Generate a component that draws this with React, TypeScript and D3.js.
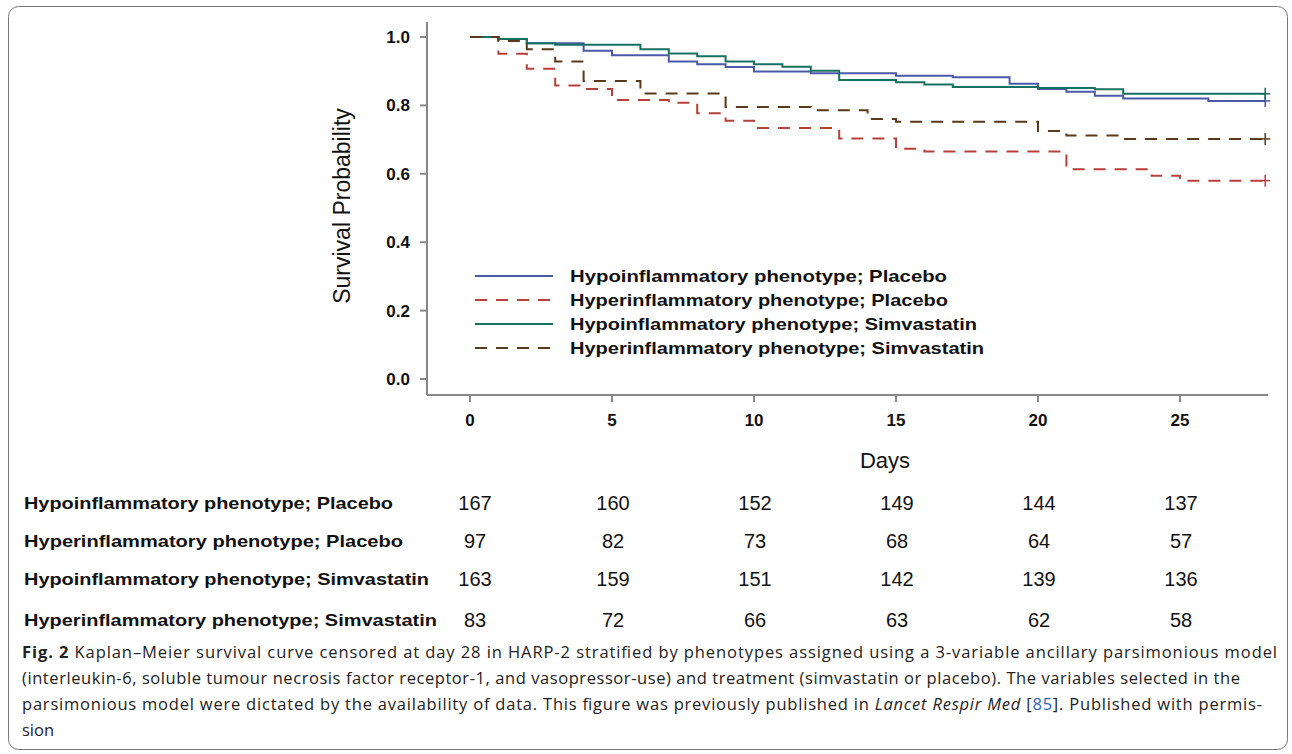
import React from "react";
import * as d3 from "d3";

const seriesNames = [
  "Hypoinflammatory phenotype; Placebo",
  "Hyperinflammatory phenotype; Placebo",
  "Hypoinflammatory phenotype; Simvastatin",
  "Hyperinflammatory phenotype; Simvastatin",
];
const colors = ["#4a5aa8", "#b8403a", "#16705f", "#5a3a1a"];
const dashed = [false, true, false, true];

const hypoPlaceboDays = [0, 1, 2, 4, 5, 7, 8, 9, 10, 12, 15, 17, 19, 20, 21, 22, 23, 26, 28];
const hypoPlaceboSurv = [1.0, 0.994, 0.982, 0.96, 0.947, 0.928, 0.92, 0.912, 0.899, 0.894, 0.887, 0.882, 0.863, 0.848, 0.84, 0.828, 0.82, 0.813, 0.813];
const hyperPlaceboDays = [0, 1, 2, 3, 4, 5, 7, 8, 9, 10, 13, 15, 16, 21, 24, 25, 28];
const hyperPlaceboSurv = [1.0, 0.951, 0.907, 0.858, 0.848, 0.816, 0.808, 0.777, 0.755, 0.734, 0.703, 0.673, 0.665, 0.613, 0.594, 0.58, 0.58];
const hypoSimvaDays = [0, 1, 2, 3, 6, 7, 8, 9, 10, 11, 12, 13, 15, 16, 17, 20, 22, 23, 28];
const hypoSimvaSurv = [1.0, 0.994, 0.982, 0.977, 0.964, 0.952, 0.944, 0.928, 0.92, 0.913, 0.901, 0.874, 0.868, 0.861, 0.854, 0.851, 0.847, 0.834, 0.834];
const hyperSimvaDays = [0, 1, 2, 3, 4, 6, 9, 12, 14, 15, 20, 21, 23, 28];
const hyperSimvaSurv = [1.0, 0.988, 0.964, 0.928, 0.871, 0.835, 0.795, 0.786, 0.76, 0.752, 0.725, 0.712, 0.702, 0.702];

const allDays = [hypoPlaceboDays, hyperPlaceboDays, hypoSimvaDays, hyperSimvaDays];
const allSurv = [hypoPlaceboSurv, hyperPlaceboSurv, hypoSimvaSurv, hyperSimvaSurv];

const xTicks = [0, 5, 10, 15, 20, 25];
const yTicks = [0, 0.2, 0.4, 0.6, 0.8, 1.0];
const riskDays = [0, 5, 10, 15, 20, 25];
const riskTable = [
  [167, 160, 152, 149, 144, 137],
  [97, 82, 73, 68, 64, 57],
  [163, 159, 151, 142, 139, 136],
  [83, 72, 66, 63, 62, 58],
];
const riskRowY = [503, 541, 579, 620];
const legendLen = [377, 378, 407, 414];
const rowLabelLen = [369, 379, 405, 413];

export default function App() {
  const x = d3.scaleLinear().domain([0, 25]).range([470, 1180]);
  const y = d3.scaleLinear().domain([0, 1]).range([379, 37]);
  const line = d3
    .line<[number, number]>()
    .x((d) => x(d[0]))
    .y((d) => y(d[1]))
    .curve(d3.curveStepAfter);
  const font = "Arial, 'Liberation Sans', sans-serif";
  return (
    <svg width={1292} height={754} style={{ position: "absolute", left: 0, top: 0 }}>
      <rect x={8.5} y={6.5} width={1279} height={743} rx={10} fill="white" stroke="#777" strokeWidth={1} />
      <line x1={427} x2={427} y1={22} y2={395} stroke="#888" strokeWidth={2} />
      <line x1={427} x2={1268} y1={395} y2={395} stroke="#888" strokeWidth={2} />
      {yTicks.map((t) => (
        <g key={t}>
          <line x1={420} x2={427} y1={y(t)} y2={y(t)} stroke="#888" strokeWidth={2} />
          <text x={410} y={y(t) + 6} textAnchor="end" fontFamily={font} fontSize={17} fontWeight="bold" fill="#111">
            {t.toFixed(1)}
          </text>
        </g>
      ))}
      {xTicks.map((t) => (
        <g key={t}>
          <line x1={x(t)} x2={x(t)} y1={395} y2={402} stroke="#888" strokeWidth={2} />
          <text x={x(t)} y={426} textAnchor="middle" fontFamily={font} fontSize={17} fontWeight="bold" fill="#111">
            {t}
          </text>
        </g>
      ))}
      <text x={885} y={468} textAnchor="middle" fontFamily={font} fontSize={22} fill="#111">Days</text>
      <text transform="translate(350,206) rotate(-90)" textAnchor="middle" fontFamily={font} fontSize={23} fill="#111">
        Survival Probability
      </text>
      {allDays.map((days, i) => {
        const pts = days.map((d, j) => [d, allSurv[i][j]] as [number, number]);
        const last = pts[pts.length - 1];
        return (
          <g key={i}>
            <path d={line(pts) || ""} fill="none" stroke={colors[i]} strokeWidth={2}
              strokeDasharray={dashed[i] ? "12 9" : undefined} />
            <line x1={x(last[0])} x2={x(last[0])} y1={y(last[1]) - 6} y2={y(last[1]) + 6} stroke={colors[i]} strokeWidth={1.5} />
            <line x1={x(last[0]) - 5} x2={x(last[0]) + 5} y1={y(last[1])} y2={y(last[1])} stroke={colors[i]} strokeWidth={1.5} />
          </g>
        );
      })}
      {seriesNames.map((n, i) => (
        <g key={n}>
          <line x1={475} x2={553} y1={276 + i * 24} y2={276 + i * 24} stroke={colors[i]} strokeWidth={2}
            strokeDasharray={dashed[i] ? "12 9" : undefined} />
          <text x={570} y={282 + i * 24} fontFamily={font} fontSize={17} fontWeight="bold" fill="#111"
            textLength={legendLen[i]} lengthAdjust="spacingAndGlyphs">{n}</text>
        </g>
      ))}
      {seriesNames.map((n, i) => (
        <g key={"r" + n}>
          <text x={24} y={riskRowY[i] + 6} fontFamily={font} fontSize={17} fontWeight="bold" fill="#111"
            textLength={rowLabelLen[i]} lengthAdjust="spacingAndGlyphs">{n}</text>
          {riskTable[i].map((v, j) => (
            <text key={j} x={x(riskDays[j]) + (j === 0 ? 5 : 1)} y={riskRowY[i] + 7} textAnchor="middle" fontFamily={font} fontSize={20} fill="#111">{v}</text>
          ))}
        </g>
      ))}
      <g fontFamily="'Open Sans', sans-serif" fontSize={16.5} fill="#222">
        <text x={22} y={658} textLength={1255} lengthAdjust="spacing">
          <tspan fontWeight="bold">Fig. 2</tspan>
          <tspan>{"  Kaplan–Meier survival curve censored at day 28 in HARP-2 stratified by phenotypes assigned using a 3-variable ancillary parsimonious model"}</tspan>
        </text>
        <text x={22} y={684} textLength={1218} lengthAdjust="spacing">(interleukin-6, soluble tumour necrosis factor receptor-1, and vasopressor-use) and treatment (simvastatin or placebo). The variables selected in the</text>
        <text x={22} y={710} textLength={1240} lengthAdjust="spacing">
          <tspan>parsimonious model were dictated by the availability of data. This figure was previously published in </tspan>
          <tspan fontStyle="italic">Lancet Respir Med</tspan>
          <tspan> [</tspan><tspan fill="#3060c0">85</tspan><tspan>]. Published with permis-</tspan>
        </text>
        <text x={22} y={736}>sion</text>
      </g>
    </svg>
  );
}
